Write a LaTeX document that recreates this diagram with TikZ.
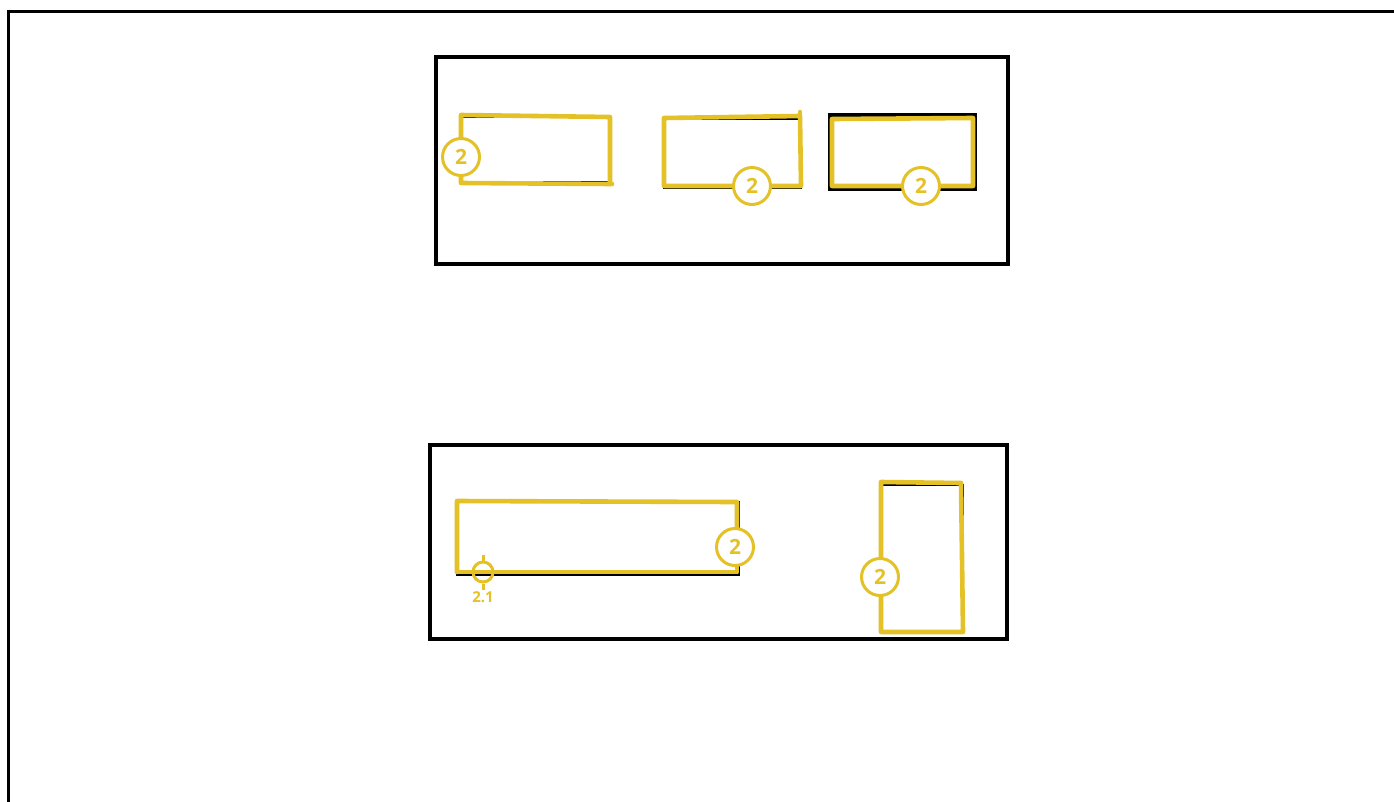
\documentclass[tikz,border=0pt]{standalone}
\usepackage{fontspec}
\setmainfont{Open Sans}
\definecolor{ylw}{RGB}{229,193,40}
\tikzset{
  frame/.style={draw=black,line width=4.6pt},
  thinbox/.style={draw=black,line width=2pt},
  ybox/.style={draw=ylw,line width=4.6pt,line join=round,line cap=round},
  num/.style={circle,draw=ylw,fill=white,line width=3pt,minimum size=37pt,inner sep=0pt,text=ylw,font=\bfseries\fontsize{21}{21}\selectfont},
  tgt/.style={circle,draw=ylw,line width=3pt,minimum size=20pt,inner sep=0pt},
  tlabel/.style={text=ylw,font=\bfseries\fontsize{15}{15}\selectfont,inner sep=0pt}
}
\begin{document}
\begin{tikzpicture}[x=1pt,y=-1pt]
\useasboundingbox (0,0) rectangle (1394,801);
\fill[white] (0,0) rectangle (1394,801);
% outer frame
\draw[line width=3pt] (8,805) -- (8,11) -- (1400,11);
% containers
\draw[frame] (436,57) rectangle (1008,264);
\draw[frame] (430,445) rectangle (1007,639);
% black underlying rects
\draw[thinbox] (461,117) rectangle (611,182);
\draw[thinbox] (664,119) rectangle (801,188);
\draw[black,line width=3.5pt] (830,115) rectangle (975,189);
\draw[thinbox] (457,502) rectangle (739,575);
\draw[thinbox] (882,485) rectangle (963,632);
% yellow hand-drawn outlines
\draw[ybox] (461,157) -- (461,115) -- (610,117) -- (610,183);
\draw[ybox] (461,170) -- (461,183) -- (612,184);
\draw[ybox] (664,118) -- (800,116) -- (801,186) -- (664,186) -- cycle;
\draw[ybox] (800,112) -- (800,118);
\draw[ybox] (832,119) -- (973,118) -- (973,186) -- (832,186) -- cycle;
\draw[ybox] (457,572) -- (457,501) -- (737,502) -- (737,530);
\draw[ybox] (737,560) -- (737,572) -- (457,572);
\draw[ybox] (881,560) -- (881,482) -- (961,483) -- (963,632) -- (881,632) -- (881,595);
% numbered markers
\node[num] (n1) at (461,157) {2};
\node[num] (n2) at (752,186) {2};
\node[num] (n3) at (921,186) {2};
\node[num] (n4) at (735,547) {2};
\node[num] (n5) at (880,577) {2};
% target marker 2.1
\node[tgt] (t1) at (483,572) {};
\draw[ylw,line width=3pt] (t1.north) -- ++(0,-6);
\draw[ylw,line width=3pt] (t1.south) -- ++(0,6);
\node[tlabel] (t1l) at (483,597) {2.1};
\end{tikzpicture}
\end{document}
